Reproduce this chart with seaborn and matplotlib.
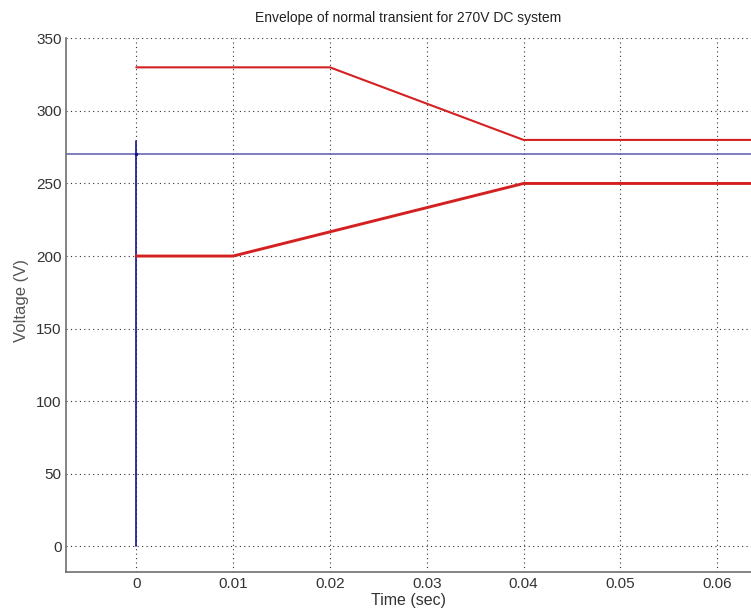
import pandas as pd
import numpy as np
import seaborn as sns
import matplotlib.pyplot as plt

# envelope corner points
upper_t = [0.0, 0.02, 0.04, 0.07]
upper_v = [330, 330, 280, 280]
lower_t = [0.0, 0.01, 0.04, 0.07]
lower_v = [200, 200, 250, 250]
nominal_t = [-0.01, 0.07]
nominal_v = [270, 270]
step_t = [0.0, 0.0]
step_v = [0, 279]

x_ticks = [0, 0.01, 0.02, 0.03, 0.04, 0.05, 0.06]
y_ticks = [0, 50, 100, 150, 200, 250, 300, 350]

sns.set_style('white')
plt.rcParams['font.family'] = ['Liberation Sans', 'DejaVu Sans']

upper = pd.DataFrame({'t': upper_t, 'v': upper_v})
lower = pd.DataFrame({'t': lower_t, 'v': lower_v})
nominal = pd.DataFrame({'t': nominal_t, 'v': nominal_v})
step = pd.DataFrame({'t': step_t, 'v': step_v})

fig = plt.figure(figsize=(7.51, 6.08), dpi=100)
ax = fig.add_axes([0.0874, 0.0584, 0.9126, 0.8786])

sns.lineplot(ax=ax, data=nominal, x='t', y='v', sort=False, estimator=None, color='#5b5bab', lw=1.1)
sns.lineplot(ax=ax, data=step, x='t', y='v', sort=False, estimator=None, color='#14148c', lw=1.2)
ax.plot([0], [270], marker='.', ms=3, color='#14148c')
sns.lineplot(ax=ax, data=upper, x='t', y='v', sort=False, estimator=None, color='#d42020', lw=1.5)
sns.lineplot(ax=ax, data=lower, x='t', y='v', sort=False, estimator=None, color='#d42020', lw=2.1)

ax.set_xlim(-0.0073, 0.0635)
ax.set_ylim(-18, 350)
ax.set_xticks(x_ticks)
ax.set_xticklabels(['0', '0.01', '0.02', '0.03', '0.04', '0.05', '0.06'])
ax.set_yticks(y_ticks)
ax.grid(True, linestyle=(0, (1, 3)), color='#333333', linewidth=0.8)
ax.tick_params(direction='in', length=4, labelsize=11, colors='#444444', labelcolor='#333333')
ax.tick_params(axis='y', pad=3)

for side in ['top', 'right']:
    ax.spines[side].set_visible(False)
for side in ['left', 'bottom']:
    ax.spines[side].set_color('#6e6e6e')
    ax.spines[side].set_linewidth(1.2)

ax.set_xlabel('Time (sec)', fontsize=11.5, color='#333333', labelpad=1)
ax.set_ylabel('Voltage (V)', fontsize=12, color='#555555')
ax.yaxis.set_label_coords(-0.054, 0.51)
ax.set_title('Envelope of normal transient for 270V DC system', fontsize=10, color='#222222', pad=12)

plt.savefig('out.png', dpi=100)
